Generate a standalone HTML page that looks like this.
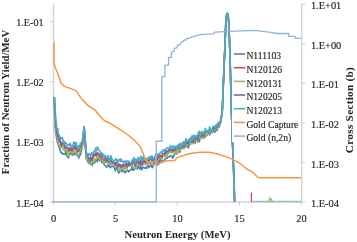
<!DOCTYPE html>
<html><head><meta charset="utf-8"><style>
html,body{margin:0;padding:0;background:#fff;}
body{width:357px;height:242px;overflow:hidden;}
svg{display:block;font-family:"Liberation Serif", serif;filter:blur(0.3px);}
</style></head><body>
<svg width="357" height="242" viewBox="0 0 357 242">
<line x1="53.5" y1="3.6" x2="53.5" y2="202.0" stroke="#d3d3d3" stroke-width="1.4"/>
<line x1="301.7" y1="3.6" x2="301.7" y2="202.0" stroke="#d3d3d3" stroke-width="1.4"/>
<line x1="50.5" y1="202.0" x2="302.09999999999997" y2="202.0" stroke="#d3d3d3" stroke-width="1.4"/>
<line x1="50.3" y1="21.50" x2="53.5" y2="21.50" stroke="#d3d3d3" stroke-width="1.2"/>
<line x1="50.3" y1="81.67" x2="53.5" y2="81.67" stroke="#d3d3d3" stroke-width="1.2"/>
<line x1="50.3" y1="141.83" x2="53.5" y2="141.83" stroke="#d3d3d3" stroke-width="1.2"/>
<line x1="50.3" y1="202.00" x2="53.5" y2="202.00" stroke="#d3d3d3" stroke-width="1.2"/>
<line x1="301.7" y1="4.40" x2="305.2" y2="4.40" stroke="#d3d3d3" stroke-width="1.2"/>
<line x1="301.7" y1="43.92" x2="305.2" y2="43.92" stroke="#d3d3d3" stroke-width="1.2"/>
<line x1="301.7" y1="83.44" x2="305.2" y2="83.44" stroke="#d3d3d3" stroke-width="1.2"/>
<line x1="301.7" y1="122.96" x2="305.2" y2="122.96" stroke="#d3d3d3" stroke-width="1.2"/>
<line x1="301.7" y1="162.48" x2="305.2" y2="162.48" stroke="#d3d3d3" stroke-width="1.2"/>
<line x1="301.7" y1="202.00" x2="305.2" y2="202.00" stroke="#d3d3d3" stroke-width="1.2"/>
<line x1="53.50" y1="202.0" x2="53.50" y2="205.5" stroke="#d3d3d3" stroke-width="1.2"/>
<line x1="115.47" y1="202.0" x2="115.47" y2="205.5" stroke="#d3d3d3" stroke-width="1.2"/>
<line x1="177.45" y1="202.0" x2="177.45" y2="205.5" stroke="#d3d3d3" stroke-width="1.2"/>
<line x1="239.42" y1="202.0" x2="239.42" y2="205.5" stroke="#d3d3d3" stroke-width="1.2"/>
<line x1="301.40" y1="202.0" x2="301.40" y2="205.5" stroke="#d3d3d3" stroke-width="1.2"/>
<path d="M54.3,97.0 L54.7,117.2 L55.1,126.2 L55.5,130.2 L55.9,133.6 L56.3,136.3 L56.7,138.5 L57.1,140.2 L57.5,143.1 L57.9,143.4 L58.3,144.8 L59.1,146.9 L60.0,149.9 L60.8,152.7 L61.7,152.4 L62.5,154.1 L63.4,153.7 L64.2,154.2 L65.1,154.2 L65.9,151.8 L66.8,155.9 L67.6,156.7 L68.5,157.9 L69.3,154.1 L70.2,153.5 L71.0,154.3 L71.9,154.5 L72.7,155.1 L73.6,153.9 L74.4,154.5 L75.3,152.7 L76.1,154.4 L77.0,155.5 L77.8,155.0 L78.7,158.1 L79.5,155.5 L80.4,155.2 L81.2,150.8 L82.1,148.9 L83.0,141.9 L83.6,133.2 L84.1,126.7 L84.8,137.2 L85.3,146.4 L86.3,159.0 L87.2,160.2 L88.0,162.2 L88.9,163.2 L89.7,163.7 L90.6,163.0 L91.4,163.2 L92.3,165.4 L93.1,161.9 L94.0,163.1 L94.8,162.9 L95.7,159.2 L96.5,160.7 L97.4,161.7 L98.2,157.0 L99.1,159.8 L99.9,160.6 L100.8,160.1 L101.6,162.6 L102.5,162.3 L103.3,160.8 L104.2,164.9 L105.0,165.2 L105.9,166.1 L106.7,167.3 L107.6,166.1 L108.4,166.2 L109.3,164.5 L110.1,167.8 L111.0,166.3 L111.8,166.8 L112.7,166.0 L113.5,166.7 L114.4,167.7 L115.2,170.9 L116.1,166.4 L116.9,167.7 L117.8,170.7 L118.6,172.9 L119.5,172.1 L120.3,168.6 L121.2,168.4 L122.0,171.9 L122.9,170.2 L123.7,169.6 L124.6,172.7 L125.4,172.6 L126.3,170.8 L127.1,170.6 L128.0,170.6 L128.8,172.0 L129.7,170.2 L130.5,169.9 L131.4,169.7 L132.2,166.4 L133.1,170.4 L133.9,169.8 L134.8,168.9 L135.6,165.1 L136.5,167.0 L137.3,169.2 L138.2,165.1 L139.0,167.5 L139.9,169.2 L140.7,165.6 L141.6,169.9 L142.4,168.3 L143.3,167.1 L144.1,167.8 L145.0,168.2 L145.8,167.2 L146.7,168.5 L147.5,165.6 L148.4,165.8 L149.2,167.7 L150.1,166.0 L150.9,164.5 L151.8,167.0 L152.6,167.6 L153.5,164.5 L154.3,162.9 L155.2,164.5 L156.0,163.9 L156.9,163.1 L157.7,165.1 L158.6,160.9 L159.4,163.8 L160.3,159.4 L161.1,159.7 L162.0,161.4 L162.8,161.8 L163.7,160.9 L164.5,159.7 L165.4,158.9 L166.2,158.4 L167.1,158.5 L167.9,156.8 L168.8,156.9 L169.6,156.8 L170.5,155.6 L171.3,156.6 L172.2,156.1 L173.0,158.1 L173.9,155.4 L174.7,154.1 L175.6,153.5 L176.4,153.2 L177.3,153.7 L178.1,150.9 L179.0,151.1 L179.8,152.4 L180.7,146.1 L181.5,146.9 L182.4,148.4 L183.2,148.1 L184.1,147.3 L184.9,145.8 L185.8,147.0 L186.6,146.1 L187.5,144.6 L188.3,148.0 L189.2,145.2 L190.0,143.4 L190.9,143.7 L191.7,143.1 L192.6,142.9 L193.4,139.6 L194.3,141.4 L195.1,143.2 L196.0,139.5 L196.8,140.7 L197.7,141.8 L198.5,141.2 L199.4,141.7 L200.2,136.5 L201.1,137.9 L201.9,137.3 L202.8,138.1 L203.6,138.2 L204.5,133.0 L205.3,137.1 L206.2,132.8 L207.0,135.6 L207.9,131.9 L208.7,133.9 L209.6,135.0 L210.4,132.5 L211.3,132.5 L212.1,132.9 L213.0,131.4 L213.8,130.5 L214.7,132.4 L215.5,130.9 L216.4,128.0 L217.2,130.6 L218.1,125.0 L218.9,127.2 L220.0,124.7 L221.0,121.2 L222.3,111.2 L223.7,75.0 L225.2,40.0 L225.9,20.0 L226.6,15.0 L227.4,13.4 L228.1,15.0 L228.6,20.0 L229.5,40.0 L230.5,75.0 L231.4,110.0 L232.4,140.0 L233.6,170.0 L234.6,201.5" fill="none" stroke="#4F81BD" stroke-width="1.6" stroke-linejoin="round"/>
<path d="M54.3,97.0 L54.7,109.0 L55.1,117.5 L55.5,122.3 L55.9,126.8 L56.3,130.1 L56.7,132.3 L57.1,134.0 L57.5,136.3 L57.9,138.5 L58.3,139.0 L59.1,142.2 L60.0,141.0 L60.8,142.0 L61.7,146.2 L62.5,144.8 L63.4,145.6 L64.2,145.4 L65.1,150.1 L65.9,149.8 L66.8,151.4 L67.6,148.8 L68.5,151.3 L69.3,149.5 L70.2,152.3 L71.0,153.2 L71.9,149.2 L72.7,151.9 L73.6,150.0 L74.4,147.8 L75.3,145.2 L76.1,150.6 L77.0,149.6 L77.8,150.1 L78.7,151.2 L79.5,150.5 L80.4,151.0 L81.2,145.7 L82.1,147.4 L83.0,139.1 L83.6,132.0 L84.1,126.7 L84.8,135.0 L85.3,143.3 L86.3,157.7 L87.2,158.7 L88.0,157.3 L88.9,157.6 L89.7,161.4 L90.6,159.9 L91.4,159.3 L92.3,160.6 L93.1,157.5 L94.0,154.3 L94.8,156.0 L95.7,153.1 L96.5,156.3 L97.4,154.8 L98.2,154.0 L99.1,155.6 L99.9,157.5 L100.8,157.1 L101.6,159.6 L102.5,158.1 L103.3,160.2 L104.2,161.5 L105.0,162.2 L105.9,159.3 L106.7,162.1 L107.6,158.4 L108.4,160.1 L109.3,159.3 L110.1,164.2 L111.0,161.1 L111.8,163.2 L112.7,163.2 L113.5,163.8 L114.4,163.2 L115.2,164.8 L116.1,167.5 L116.9,165.2 L117.8,166.3 L118.6,167.4 L119.5,166.0 L120.3,164.6 L121.2,165.7 L122.0,168.2 L122.9,164.2 L123.7,165.8 L124.6,168.3 L125.4,167.7 L126.3,166.3 L127.1,167.3 L128.0,166.1 L128.8,163.8 L129.7,163.0 L130.5,164.2 L131.4,166.3 L132.2,163.9 L133.1,163.2 L133.9,163.3 L134.8,161.9 L135.6,163.9 L136.5,162.2 L137.3,164.4 L138.2,160.7 L139.0,164.1 L139.9,162.5 L140.7,160.4 L141.6,164.3 L142.4,162.6 L143.3,159.9 L144.1,161.5 L145.0,163.1 L145.8,161.8 L146.7,163.5 L147.5,163.3 L148.4,163.0 L149.2,162.3 L150.1,163.6 L150.9,162.4 L151.8,162.0 L152.6,158.1 L153.5,162.3 L154.3,162.7 L155.2,160.1 L156.0,159.2 L156.9,162.1 L157.7,156.0 L158.6,158.7 L159.4,160.3 L160.3,155.4 L161.1,157.4 L162.0,158.7 L162.8,155.3 L163.7,155.9 L164.5,156.0 L165.4,152.8 L166.2,153.6 L167.1,153.6 L167.9,154.0 L168.8,152.2 L169.6,151.5 L170.5,150.0 L171.3,150.8 L172.2,152.6 L173.0,151.3 L173.9,149.7 L174.7,149.6 L175.6,153.4 L176.4,151.5 L177.3,150.1 L178.1,145.6 L179.0,148.9 L179.8,148.0 L180.7,149.3 L181.5,146.9 L182.4,145.6 L183.2,146.0 L184.1,141.7 L184.9,145.7 L185.8,144.3 L186.6,142.4 L187.5,145.0 L188.3,145.4 L189.2,140.2 L190.0,141.0 L190.9,141.9 L191.7,141.3 L192.6,139.9 L193.4,138.6 L194.3,142.6 L195.1,140.7 L196.0,136.8 L196.8,136.1 L197.7,140.2 L198.5,138.7 L199.4,139.4 L200.2,137.4 L201.1,134.4 L201.9,135.6 L202.8,131.8 L203.6,133.2 L204.5,133.7 L205.3,134.2 L206.2,131.9 L207.0,132.4 L207.9,132.9 L208.7,132.4 L209.6,132.3 L210.4,131.2 L211.3,129.9 L212.1,131.1 L213.0,129.4 L213.8,127.6 L214.7,127.3 L215.5,127.6 L216.4,126.6 L217.2,126.2 L218.1,125.2 L218.9,124.7 L220.0,123.5 L221.0,120.0 L222.3,111.0 L223.7,75.0 L225.2,40.0 L225.9,20.0 L226.6,15.0 L227.4,13.4 L228.1,15.0 L228.6,20.0 L229.5,40.0 L230.5,75.0 L231.4,110.0 L232.4,140.0 L233.6,170.0 L234.6,201.5" fill="none" stroke="#C0504D" stroke-width="1.6" stroke-linejoin="round"/>
<path d="M54.3,97.0 L54.7,112.6 L55.1,121.3 L55.5,125.8 L55.9,129.8 L56.3,132.8 L56.7,135.1 L57.1,136.9 L57.5,136.9 L57.9,140.9 L58.3,143.1 L59.1,145.0 L60.0,146.0 L60.8,147.9 L61.7,146.7 L62.5,146.2 L63.4,149.9 L64.2,148.9 L65.1,151.8 L65.9,149.5 L66.8,148.6 L67.6,151.2 L68.5,156.2 L69.3,153.0 L70.2,151.3 L71.0,151.8 L71.9,153.4 L72.7,152.5 L73.6,151.2 L74.4,152.8 L75.3,151.7 L76.1,150.8 L77.0,152.9 L77.8,155.7 L78.7,154.2 L79.5,153.5 L80.4,149.2 L81.2,149.0 L82.1,148.7 L83.0,140.3 L83.6,132.5 L84.1,126.7 L84.8,136.0 L85.3,144.7 L86.3,156.8 L87.2,159.8 L88.0,160.1 L88.9,161.9 L89.7,161.5 L90.6,164.8 L91.4,163.1 L92.3,160.4 L93.1,160.3 L94.0,162.6 L94.8,158.6 L95.7,159.6 L96.5,159.0 L97.4,156.7 L98.2,155.4 L99.1,157.9 L99.9,158.8 L100.8,160.5 L101.6,160.6 L102.5,160.1 L103.3,161.9 L104.2,162.0 L105.0,162.0 L105.9,162.3 L106.7,162.3 L107.6,164.2 L108.4,162.0 L109.3,163.1 L110.1,164.5 L111.0,162.6 L111.8,164.5 L112.7,162.4 L113.5,164.7 L114.4,166.9 L115.2,167.3 L116.1,166.7 L116.9,166.9 L117.8,165.5 L118.6,170.8 L119.5,169.2 L120.3,170.3 L121.2,167.4 L122.0,168.4 L122.9,166.0 L123.7,169.9 L124.6,170.1 L125.4,165.6 L126.3,168.1 L127.1,168.9 L128.0,165.0 L128.8,164.6 L129.7,165.5 L130.5,165.9 L131.4,164.6 L132.2,166.6 L133.1,166.7 L133.9,167.1 L134.8,167.0 L135.6,168.1 L136.5,167.5 L137.3,163.7 L138.2,164.8 L139.0,163.8 L139.9,163.7 L140.7,165.1 L141.6,165.1 L142.4,165.7 L143.3,162.5 L144.1,162.9 L145.0,164.6 L145.8,164.2 L146.7,163.8 L147.5,164.0 L148.4,162.8 L149.2,164.8 L150.1,164.1 L150.9,163.2 L151.8,162.2 L152.6,162.7 L153.5,159.8 L154.3,161.1 L155.2,162.4 L156.0,159.5 L156.9,161.4 L157.7,160.7 L158.6,157.9 L159.4,158.9 L160.3,158.3 L161.1,159.0 L162.0,158.8 L162.8,157.4 L163.7,155.8 L164.5,156.4 L165.4,156.1 L166.2,156.8 L167.1,155.6 L167.9,153.5 L168.8,152.1 L169.6,153.0 L170.5,152.2 L171.3,151.5 L172.2,152.8 L173.0,152.1 L173.9,152.9 L174.7,153.4 L175.6,151.4 L176.4,154.3 L177.3,150.1 L178.1,151.5 L179.0,149.3 L179.8,150.0 L180.7,144.8 L181.5,146.1 L182.4,147.1 L183.2,147.1 L184.1,148.7 L184.9,145.6 L185.8,146.7 L186.6,145.6 L187.5,145.5 L188.3,144.5 L189.2,143.1 L190.0,143.7 L190.9,140.9 L191.7,143.9 L192.6,140.1 L193.4,141.5 L194.3,143.7 L195.1,139.9 L196.0,139.8 L196.8,141.1 L197.7,138.9 L198.5,137.2 L199.4,138.3 L200.2,138.3 L201.1,138.0 L201.9,135.2 L202.8,138.5 L203.6,137.8 L204.5,134.8 L205.3,134.7 L206.2,133.2 L207.0,135.6 L207.9,132.0 L208.7,133.6 L209.6,131.5 L210.4,130.7 L211.3,132.3 L212.1,132.7 L213.0,130.1 L213.8,128.6 L214.7,130.3 L215.5,128.3 L216.4,128.0 L217.2,129.0 L218.1,127.6 L218.9,124.2 L220.0,124.0 L221.0,120.5 L222.3,111.1 L223.7,75.0 L225.2,40.0 L225.9,20.0 L226.6,15.0 L227.4,13.4 L228.1,15.0 L228.6,20.0 L229.5,40.0 L230.5,75.0 L231.4,110.0 L232.4,140.0 L233.6,170.0 L234.6,201.5" fill="none" stroke="#9BBB59" stroke-width="1.6" stroke-linejoin="round"/>
<path d="M54.3,97.0 L54.7,106.5 L55.1,114.9 L55.5,119.9 L55.9,124.8 L56.3,128.3 L56.7,130.5 L57.1,135.6 L57.5,134.2 L57.9,136.7 L58.3,135.7 L59.1,139.1 L60.0,138.5 L60.8,144.9 L61.7,145.3 L62.5,142.5 L63.4,143.0 L64.2,143.4 L65.1,148.2 L65.9,146.3 L66.8,147.5 L67.6,148.1 L68.5,149.3 L69.3,148.0 L70.2,149.7 L71.0,147.3 L71.9,149.0 L72.7,148.5 L73.6,147.6 L74.4,146.0 L75.3,145.1 L76.1,147.1 L77.0,147.5 L77.8,151.9 L78.7,150.3 L79.5,148.3 L80.4,146.7 L81.2,144.9 L82.1,143.0 L83.0,138.2 L83.6,131.6 L84.1,126.7 L84.8,134.3 L85.3,142.4 L86.3,153.7 L87.2,155.8 L88.0,157.2 L88.9,158.3 L89.7,161.5 L90.6,157.3 L91.4,157.7 L92.3,160.0 L93.1,153.5 L94.0,154.8 L94.8,155.2 L95.7,154.4 L96.5,154.1 L97.4,152.4 L98.2,154.0 L99.1,154.3 L99.9,156.1 L100.8,152.8 L101.6,155.0 L102.5,156.9 L103.3,155.8 L104.2,156.4 L105.0,159.4 L105.9,158.0 L106.7,160.4 L107.6,161.1 L108.4,160.9 L109.3,161.7 L110.1,161.2 L111.0,159.5 L111.8,161.9 L112.7,162.9 L113.5,161.7 L114.4,162.6 L115.2,164.2 L116.1,162.1 L116.9,164.7 L117.8,166.9 L118.6,163.6 L119.5,165.0 L120.3,164.8 L121.2,167.4 L122.0,165.7 L122.9,166.6 L123.7,164.3 L124.6,165.4 L125.4,165.2 L126.3,162.3 L127.1,167.0 L128.0,165.9 L128.8,161.7 L129.7,165.3 L130.5,163.8 L131.4,164.4 L132.2,164.1 L133.1,161.2 L133.9,162.9 L134.8,165.3 L135.6,162.1 L136.5,161.2 L137.3,160.6 L138.2,160.6 L139.0,162.8 L139.9,164.7 L140.7,162.7 L141.6,162.2 L142.4,164.7 L143.3,160.8 L144.1,160.4 L145.0,162.1 L145.8,161.9 L146.7,159.4 L147.5,159.1 L148.4,161.1 L149.2,160.9 L150.1,158.4 L150.9,159.9 L151.8,159.2 L152.6,160.5 L153.5,159.5 L154.3,159.4 L155.2,158.7 L156.0,160.2 L156.9,160.0 L157.7,156.7 L158.6,157.9 L159.4,154.8 L160.3,155.5 L161.1,156.1 L162.0,156.8 L162.8,153.5 L163.7,153.6 L164.5,153.5 L165.4,150.6 L166.2,152.4 L167.1,150.9 L167.9,152.0 L168.8,149.3 L169.6,147.5 L170.5,150.3 L171.3,150.5 L172.2,149.2 L173.0,151.3 L173.9,149.4 L174.7,148.8 L175.6,150.0 L176.4,146.4 L177.3,147.2 L178.1,147.7 L179.0,148.4 L179.8,146.4 L180.7,146.5 L181.5,144.6 L182.4,145.5 L183.2,147.0 L184.1,142.9 L184.9,146.4 L185.8,142.1 L186.6,142.7 L187.5,142.6 L188.3,143.5 L189.2,139.8 L190.0,138.3 L190.9,141.7 L191.7,141.5 L192.6,140.7 L193.4,142.3 L194.3,139.1 L195.1,138.7 L196.0,139.2 L196.8,137.9 L197.7,139.3 L198.5,134.5 L199.4,135.3 L200.2,132.4 L201.1,136.2 L201.9,133.9 L202.8,135.4 L203.6,136.6 L204.5,133.2 L205.3,132.4 L206.2,131.6 L207.0,130.7 L207.9,130.7 L208.7,132.2 L209.6,130.9 L210.4,130.5 L211.3,129.6 L212.1,130.7 L213.0,129.5 L213.8,128.1 L214.7,128.7 L215.5,126.8 L216.4,124.6 L217.2,127.7 L218.1,125.5 L218.9,122.6 L220.0,123.1 L221.0,119.6 L222.3,110.9 L223.7,75.0 L225.2,40.0 L225.9,20.0 L226.6,15.0 L227.4,13.4 L228.1,15.0 L228.6,20.0 L229.5,40.0 L230.5,75.0 L231.4,110.0 L232.4,140.0 L233.6,170.0 L234.6,201.5" fill="none" stroke="#8064A2" stroke-width="1.6" stroke-linejoin="round"/>
<path d="M54.3,97.0 L54.7,100.8 L55.1,108.8 L55.5,114.4 L55.9,120.0 L56.3,123.9 L56.7,126.1 L57.1,129.8 L57.5,130.4 L57.9,128.7 L58.3,134.5 L59.1,134.7 L60.0,137.6 L60.8,137.8 L61.7,138.5 L62.5,137.6 L63.4,142.4 L64.2,141.7 L65.1,141.9 L65.9,143.6 L66.8,143.8 L67.6,145.6 L68.5,144.8 L69.3,145.8 L70.2,143.3 L71.0,145.4 L71.9,146.8 L72.7,146.5 L73.6,142.5 L74.4,142.2 L75.3,145.0 L76.1,142.6 L77.0,145.7 L77.8,148.6 L78.7,145.8 L79.5,147.0 L80.4,143.1 L81.2,143.1 L82.1,141.3 L83.0,136.3 L83.6,130.8 L84.1,126.7 L84.8,132.8 L85.3,140.3 L86.3,151.5 L87.2,154.3 L88.0,156.8 L88.9,153.6 L89.7,154.5 L90.6,155.8 L91.4,152.7 L92.3,154.2 L93.1,153.5 L94.0,151.4 L94.8,151.7 L95.7,148.0 L96.5,150.8 L97.4,146.7 L98.2,148.9 L99.1,150.1 L99.9,151.1 L100.8,153.9 L101.6,153.5 L102.5,153.3 L103.3,155.2 L104.2,157.2 L105.0,155.3 L105.9,156.4 L106.7,158.3 L107.6,157.3 L108.4,155.5 L109.3,161.0 L110.1,161.4 L111.0,155.7 L111.8,158.9 L112.7,159.8 L113.5,160.9 L114.4,160.7 L115.2,159.5 L116.1,158.6 L116.9,160.7 L117.8,162.3 L118.6,159.4 L119.5,159.8 L120.3,161.5 L121.2,158.8 L122.0,161.5 L122.9,161.3 L123.7,162.8 L124.6,161.2 L125.4,160.8 L126.3,161.4 L127.1,161.8 L128.0,160.7 L128.8,161.5 L129.7,162.5 L130.5,163.0 L131.4,163.6 L132.2,159.7 L133.1,160.1 L133.9,157.5 L134.8,163.2 L135.6,159.1 L136.5,159.9 L137.3,160.6 L138.2,157.6 L139.0,160.1 L139.9,159.2 L140.7,156.3 L141.6,159.3 L142.4,160.5 L143.3,155.7 L144.1,159.5 L145.0,158.4 L145.8,158.7 L146.7,158.5 L147.5,159.6 L148.4,157.2 L149.2,158.7 L150.1,156.7 L150.9,158.2 L151.8,155.8 L152.6,156.7 L153.5,159.3 L154.3,157.3 L155.2,156.1 L156.0,153.9 L156.9,153.7 L157.7,154.5 L158.6,154.9 L159.4,153.4 L160.3,152.9 L161.1,151.7 L162.0,153.3 L162.8,150.3 L163.7,149.6 L164.5,151.4 L165.4,149.7 L166.2,148.8 L167.1,147.9 L167.9,148.0 L168.8,148.9 L169.6,148.1 L170.5,145.5 L171.3,147.9 L172.2,147.5 L173.0,145.7 L173.9,148.2 L174.7,146.6 L175.6,146.2 L176.4,147.6 L177.3,148.0 L178.1,144.6 L179.0,146.0 L179.8,143.6 L180.7,147.5 L181.5,143.2 L182.4,145.2 L183.2,141.9 L184.1,143.6 L184.9,144.8 L185.8,138.5 L186.6,140.5 L187.5,141.5 L188.3,140.3 L189.2,139.0 L190.0,142.7 L190.9,139.3 L191.7,136.1 L192.6,139.4 L193.4,135.0 L194.3,138.8 L195.1,135.6 L196.0,136.2 L196.8,137.3 L197.7,135.1 L198.5,132.3 L199.4,131.3 L200.2,135.2 L201.1,134.2 L201.9,131.5 L202.8,133.7 L203.6,132.8 L204.5,132.7 L205.3,128.4 L206.2,130.5 L207.0,132.0 L207.9,131.4 L208.7,131.2 L209.6,126.6 L210.4,129.4 L211.3,129.3 L212.1,131.1 L213.0,126.1 L213.8,126.5 L214.7,126.5 L215.5,127.2 L216.4,124.5 L217.2,126.2 L218.1,122.6 L218.9,123.5 L220.0,122.2 L221.0,118.8 L222.3,110.8 L223.7,75.0 L225.2,40.0 L225.9,20.0 L226.6,15.0 L227.4,13.4 L228.1,15.0 L228.6,20.0 L229.5,40.0 L230.5,75.0 L231.4,110.0 L232.4,140.0 L233.6,170.0 L234.6,201.5" fill="none" stroke="#4BACC6" stroke-width="1.6" stroke-linejoin="round"/>
<line x1="252.2" y1="201.5" x2="301" y2="201.5" stroke="#95c6d4" stroke-width="1.3"/>
<line x1="253.0" y1="201.5" x2="254.2" y2="201.5" stroke="#c98fa0" stroke-width="1.2" opacity="0.7"/>
<line x1="257.3" y1="201.5" x2="258.5" y2="201.5" stroke="#a98fc0" stroke-width="1.2" opacity="0.7"/>
<line x1="261.6" y1="201.5" x2="262.8" y2="201.5" stroke="#9fc08a" stroke-width="1.2" opacity="0.7"/>
<line x1="265.9" y1="201.5" x2="267.1" y2="201.5" stroke="#c98fa0" stroke-width="1.2" opacity="0.7"/>
<line x1="270.2" y1="201.5" x2="271.4" y2="201.5" stroke="#a98fc0" stroke-width="1.2" opacity="0.7"/>
<line x1="274.5" y1="201.5" x2="275.7" y2="201.5" stroke="#9fc08a" stroke-width="1.2" opacity="0.7"/>
<line x1="278.8" y1="201.5" x2="280.0" y2="201.5" stroke="#c98fa0" stroke-width="1.2" opacity="0.7"/>
<line x1="283.1" y1="201.5" x2="284.3" y2="201.5" stroke="#a98fc0" stroke-width="1.2" opacity="0.7"/>
<line x1="287.4" y1="201.5" x2="288.6" y2="201.5" stroke="#9fc08a" stroke-width="1.2" opacity="0.7"/>
<line x1="291.7" y1="201.5" x2="292.9" y2="201.5" stroke="#c98fa0" stroke-width="1.2" opacity="0.7"/>
<line x1="296.0" y1="201.5" x2="297.2" y2="201.5" stroke="#a98fc0" stroke-width="1.2" opacity="0.7"/>
<line x1="251.4" y1="192.6" x2="251.4" y2="202" stroke="#C0504D" stroke-width="1.3"/>
<path d="M269.3,201.6 L270.0,197.9 L271.6,199.8 L272.2,201.6" fill="none" stroke="#9BBB59" stroke-width="1.4"/>
<path d="M54.0,42.4 L54.0,63.5 L56.2,69.7 L58.7,76.0 L61.2,83.4 L64.9,86.6 L69.9,88.3 L74.8,90.1 L77.4,92.0 L78.5,94.5 L82.4,99.9 L88.6,106.0 L94.8,109.8 L100.0,116.3 L103.0,119.5 L105.0,121.0 L110.0,123.2 L115.0,126.5 L121.2,130.3 L127.4,134.5 L133.6,139.6 L137.7,143.8 L140.8,147.9 L142.9,153.1 L145.0,158.2 L147.0,161.3 L150.1,163.4 L154.3,164.4 L158.4,163.6 L162.5,162.2 L165.0,161.0 L175.0,160.5 L176.5,157.9 L186.4,154.5 L192.0,153.2 L199.7,152.3 L209.6,152.3 L219.5,154.5 L229.4,157.9 L239.3,162.8 L246.0,168.5 L252.2,171.8 L258.4,177.7 L301.0,177.7" fill="none" stroke="#F79646" stroke-width="1.5" stroke-linejoin="round"/>
<path d="M52.4,201.8 L156.3,201.8 L156.3,141.2 L161.8,141.2 L161.8,77.0 L164.9,76.5 L164.9,65.3 L168.6,65.0 L168.6,57.4 L171.4,57.4 L171.5,52.2 L174.0,51.5 L174.3,48.4 L177.0,47.8 L177.4,45.3 L180.0,44.7 L180.5,42.9 L183.0,41.6 L183.6,40.4 L186.1,39.8 L186.7,38.9 L189.8,37.9 L192.3,36.9 L194.8,36.1 L197.3,35.4 L199.7,34.8 L201.7,34.3 L213.5,33.8 L215.2,32.1 L228.6,31.4 L255.0,30.4 L269.0,32.1 L276.7,33.5 L288.6,33.5 L288.9,36.4 L294.9,36.4 L295.3,38.4 L301.0,38.4" fill="none" stroke="#95B3D7" stroke-width="1.35" stroke-linejoin="miter"/>
<rect x="232" y="46" width="66" height="96" fill="#fff"/>
<line x1="233.9" y1="54.0" x2="245.3" y2="54.0" stroke="#4F81BD" stroke-width="1.6"/>
<text x="246.4" y="59.3" font-size="9.6" fill="#262626" stroke="#262626" stroke-width="0.15">N111103</text>
<line x1="233.9" y1="67.7" x2="245.3" y2="67.7" stroke="#C0504D" stroke-width="1.6"/>
<text x="246.4" y="73.0" font-size="9.6" fill="#262626" stroke="#262626" stroke-width="0.15">N120126</text>
<line x1="233.9" y1="81.4" x2="245.3" y2="81.4" stroke="#9BBB59" stroke-width="1.6"/>
<text x="246.4" y="86.7" font-size="9.6" fill="#262626" stroke="#262626" stroke-width="0.15">N120131</text>
<line x1="233.9" y1="95.0" x2="245.3" y2="95.0" stroke="#8064A2" stroke-width="1.6"/>
<text x="246.4" y="100.3" font-size="9.6" fill="#262626" stroke="#262626" stroke-width="0.15">N120205</text>
<line x1="233.9" y1="108.7" x2="245.3" y2="108.7" stroke="#4BACC6" stroke-width="1.6"/>
<text x="246.4" y="114.0" font-size="9.6" fill="#262626" stroke="#262626" stroke-width="0.15">N120213</text>
<line x1="233.9" y1="122.4" x2="245.3" y2="122.4" stroke="#F79646" stroke-width="1.6"/>
<text x="246.4" y="127.7" font-size="9.6" fill="#262626" stroke="#262626" stroke-width="0.15">Gold Capture</text>
<line x1="233.9" y1="136.1" x2="245.3" y2="136.1" stroke="#95B3D7" stroke-width="1.6"/>
<text x="246.4" y="141.4" font-size="9.6" fill="#262626" stroke="#262626" stroke-width="0.15">Gold (n,2n)</text>
<text x="43.6" y="26.1" font-size="10.2" text-anchor="end" fill="#262626" stroke="#262626" stroke-width="0.15">1.E-01</text>
<text x="43.6" y="86.3" font-size="10.2" text-anchor="end" fill="#262626" stroke="#262626" stroke-width="0.15">1.E-02</text>
<text x="43.6" y="146.4" font-size="10.2" text-anchor="end" fill="#262626" stroke="#262626" stroke-width="0.15">1.E-03</text>
<text x="43.6" y="206.6" font-size="10.2" text-anchor="end" fill="#262626" stroke="#262626" stroke-width="0.15">1.E-04</text>
<text x="310.9" y="9.4" font-size="10.4" fill="#262626" stroke="#262626" stroke-width="0.15">1.E+01</text>
<text x="310.9" y="48.9" font-size="10.4" fill="#262626" stroke="#262626" stroke-width="0.15">1.E+00</text>
<text x="310.9" y="88.4" font-size="10.4" fill="#262626" stroke="#262626" stroke-width="0.15">1.E-01</text>
<text x="310.9" y="128.0" font-size="10.4" fill="#262626" stroke="#262626" stroke-width="0.15">1.E-02</text>
<text x="310.9" y="167.5" font-size="10.4" fill="#262626" stroke="#262626" stroke-width="0.15">1.E-03</text>
<text x="310.9" y="207.0" font-size="10.4" fill="#262626" stroke="#262626" stroke-width="0.15">1.E-04</text>
<text x="53.5" y="222.4" font-size="10.5" text-anchor="middle" fill="#262626" stroke="#262626" stroke-width="0.15">0</text>
<text x="115.5" y="222.4" font-size="10.5" text-anchor="middle" fill="#262626" stroke="#262626" stroke-width="0.15">5</text>
<text x="177.4" y="222.4" font-size="10.5" text-anchor="middle" fill="#262626" stroke="#262626" stroke-width="0.15">10</text>
<text x="239.4" y="222.4" font-size="10.5" text-anchor="middle" fill="#262626" stroke="#262626" stroke-width="0.15">15</text>
<text x="301.4" y="222.4" font-size="10.5" text-anchor="middle" fill="#262626" stroke="#262626" stroke-width="0.15">20</text>
<text x="177.5" y="238.3" font-size="10.7" font-weight="bold" text-anchor="middle" fill="#262626">Neutron Energy (MeV)</text>
<text transform="translate(8.9,102) rotate(-90)" font-size="10.8" font-weight="bold" text-anchor="middle" fill="#262626">Fraction of Neutron Yield/MeV</text>
<text transform="translate(353.0,110.0) rotate(-90)" font-size="11.3" letter-spacing="0.25" font-weight="bold" text-anchor="middle" fill="#262626">Cross Section (b)</text>
</svg>
</body></html>
